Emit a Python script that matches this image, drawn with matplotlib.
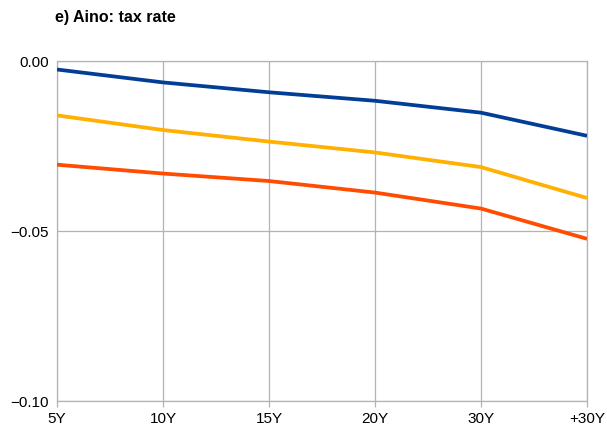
import matplotlib.pyplot as plt

plt.rcParams['font.family'] = ['Liberation Sans', 'DejaVu Sans']

# --- DATA ---
categories = ['5Y', '10Y', '15Y', '20Y', '30Y', '+30Y']
blue_vals = [-0.0025, -0.0063, -0.0092, -0.0117, -0.0152, -0.0220]
yellow_vals = [-0.0160, -0.0203, -0.0237, -0.0269, -0.0312, -0.0403]
red_vals = [-0.0305, -0.0331, -0.0353, -0.0387, -0.0434, -0.0523]
y_ticks = [-0.10, -0.05, 0.00]
y_tick_labels = ['\u22120.10', '\u22120.05', '0.00']

grid_col = '#b3b3b3'

fig = plt.figure(figsize=(6.07, 4.30), dpi=100)
ax = fig.add_axes([57 / 607, 29 / 430, 530 / 607, 340 / 430])

x = list(range(len(categories)))
ax.plot(x, blue_vals, color='#023d96', linewidth=2.7, solid_capstyle='butt', zorder=3)
ax.plot(x, yellow_vals, color='#ffb000', linewidth=2.7, solid_capstyle='butt', zorder=3)
ax.plot(x, red_vals, color='#ff4c00', linewidth=2.7, solid_capstyle='butt', zorder=3)

ax.set_xlim(0, len(categories) - 1)
ax.set_ylim(-0.10, 0.0)
ax.set_xticks(x)
ax.set_xticklabels(categories, fontsize=11)
ax.set_yticks(y_ticks)
ax.set_yticklabels(y_tick_labels, fontsize=11)

ax.grid(True, color=grid_col, linewidth=0.9, zorder=1)
for s in ax.spines.values():
    s.set_color(grid_col)
    s.set_linewidth(0.9)

ax.tick_params(axis='x', length=4.5, width=0.9, color=grid_col, pad=3.5)
ax.tick_params(axis='y', length=0, pad=6)

fig.text(55 / 607, 1 - 22 / 430, 'e) Aino: tax rate', fontsize=11.5, fontweight='bold',
         ha='left', va='baseline')

fig.savefig('out.png', dpi=100)
